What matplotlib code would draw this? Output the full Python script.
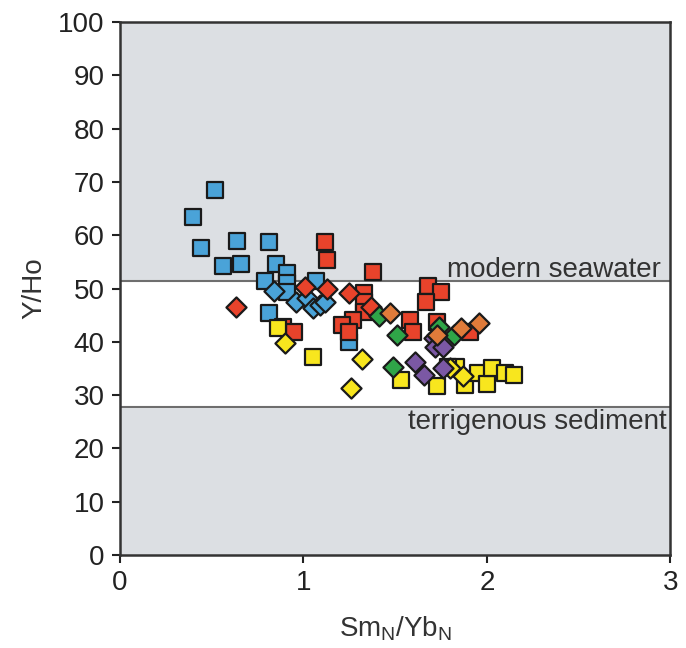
import matplotlib.pyplot as plt

plt.rcParams['font.family'] = ['Liberation Sans', 'DejaVu Sans']

# Y/Ho vs SmN/YbN
blue_sq_x = [0.40, 0.44, 0.52, 0.56, 0.64, 0.66, 0.81, 0.79, 0.85, 0.91, 0.91, 0.91, 0.81, 1.07, 1.25]
blue_sq_y = [63.4, 57.6, 68.5, 54.2, 58.9, 54.6, 58.7, 51.4, 54.6, 52.9, 51.0, 49.3, 45.4, 51.4, 40.0]
blue_di_x = [0.84, 0.96, 1.02, 1.05, 1.09, 1.12]
blue_di_y = [49.5, 47.5, 48.2, 46.3, 46.9, 47.5]

red_sq_x = [1.12, 1.13, 1.38, 1.33, 1.33, 1.33, 1.27, 1.21, 1.25, 0.89, 0.95,
            1.58, 1.60, 1.68, 1.75, 1.67, 1.73, 1.91]
red_sq_y = [58.7, 55.3, 53.1, 49.2, 47.5, 45.6, 44.1, 43.2, 41.8, 42.8, 41.8,
            44.1, 41.8, 50.5, 49.3, 47.5, 43.7, 41.8]
red_di_x = [0.63, 1.01, 1.13, 1.25, 1.37]
red_di_y = [46.5, 50.3, 49.9, 49.2, 46.5]

orange_di_x = [1.47, 1.73, 1.86, 1.96]
orange_di_y = [45.4, 41.3, 42.6, 43.5]

green_di_x = [1.41, 1.51, 1.49, 1.74, 1.82]
green_di_y = [44.8, 41.3, 35.3, 42.8, 41.3]

purple_di_x = [1.71, 1.72, 1.76, 1.61, 1.66, 1.76]
purple_di_y = [40.7, 39.0, 39.0, 36.2, 33.8, 35.1]

yellow_sq_x = [0.86, 1.05, 1.53, 1.73, 1.83, 1.79, 1.88, 1.95, 2.00, 2.03, 2.10, 2.15]
yellow_sq_y = [42.6, 37.1, 32.8, 31.7, 35.3, 35.3, 31.9, 34.1, 32.1, 35.1, 34.1, 33.8]
yellow_di_x = [0.90, 1.32, 1.26, 1.87, 1.80]
yellow_di_y = [39.8, 36.8, 31.3, 33.6, 35.1]

seawater = 51.5
sediment = 27.8

fig = plt.figure(figsize=(6.86, 6.48), dpi=100)
ax = fig.add_axes([0.175, 0.1435, 0.802, 0.8225])
ax.set_facecolor('#dcdfe3')
ax.axhspan(sediment, seawater, color='white', zorder=0)
ax.axhline(seawater, color='#6e6e6e', lw=1.5, zorder=1)
ax.axhline(sediment, color='#6e6e6e', lw=1.5, zorder=1)

kw = dict(edgecolors='#1a1a1a', linewidths=1.6, zorder=3)
ax.scatter(blue_sq_x, blue_sq_y, marker='s', s=120, c='#4aa3d8', **kw)
ax.scatter(blue_di_x, blue_di_y, marker='D', s=105, c='#4aa3d8', **kw)
ax.scatter(red_sq_x, red_sq_y, marker='s', s=120, c='#e8432b', **kw)
ax.scatter(red_di_x, red_di_y, marker='D', s=105, c='#e8432b', **kw)
ax.scatter(yellow_sq_x, yellow_sq_y, marker='s', s=120, c='#f8e61e', **kw)
ax.scatter(yellow_di_x, yellow_di_y, marker='D', s=105, c='#f8e61e', **kw)
ax.scatter(purple_di_x, purple_di_y, marker='D', s=105, c='#7b58a4', **kw)
ax.scatter(green_di_x, green_di_y, marker='D', s=105, c='#2fa548', **kw)
ax.scatter(orange_di_x, orange_di_y, marker='D', s=105, c='#e07b3a', **kw)

ax.text(2.95, seawater + 0.7, 'modern seawater', ha='right', va='baseline',
        fontsize=20, color='#333333')
ax.text(2.98, sediment - 0.4, 'terrigenous sediment', ha='right', va='top',
        fontsize=20, color='#333333')

ax.set_xlim(0, 3)
ax.set_ylim(0, 100)
ax.set_xticks([0, 1, 2, 3])
ax.set_yticks(range(0, 101, 10))
ax.tick_params(direction='out', length=6, width=1.5, labelsize=20, pad=5,
               colors='#222222')
for sp in ax.spines.values():
    sp.set_linewidth(1.8)
    sp.set_color('#333333')
ax.set_xlabel('Sm$_\\mathregular{N}$/Yb$_\\mathregular{N}$', fontsize=20, color='#333333', labelpad=13)
ax.set_ylabel('Y/Ho', fontsize=20, color='#333333', labelpad=8)

fig.savefig('out.png', dpi=100)
